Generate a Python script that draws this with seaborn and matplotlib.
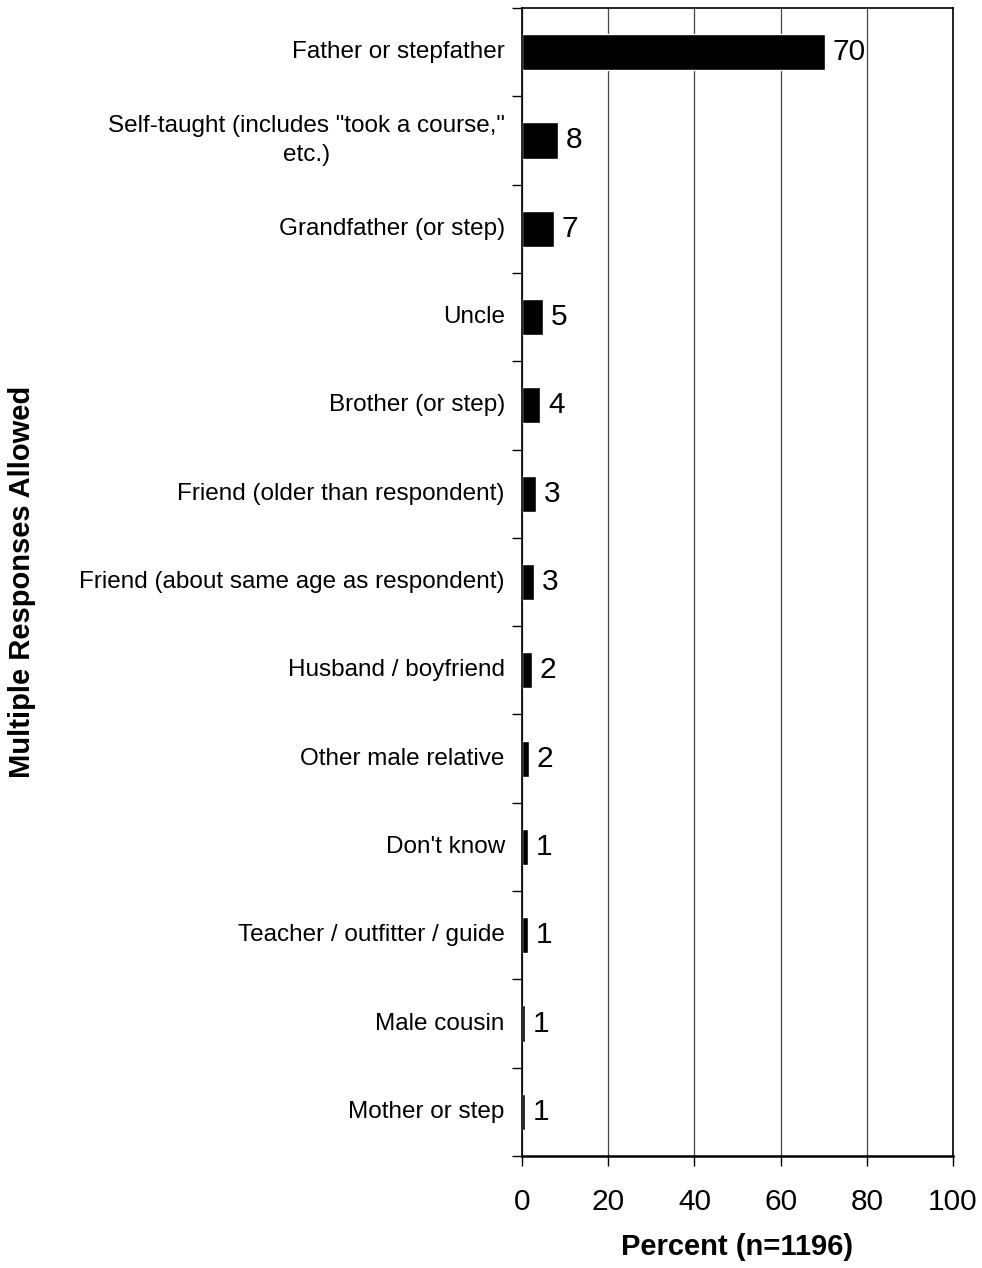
import pandas as pd
import seaborn as sns
import matplotlib.pyplot as plt

# 数据
categories = [
    "Father or stepfather",
    "Self-taught (includes \"took a course,\"\netc.)",
    "Grandfather (or step)",
    "Uncle",
    "Brother (or step)",
    "Friend (older than respondent)",
    "Friend (about same age as respondent)",
    "Husband / boyfriend",
    "Other male relative",
    "Don't know",
    "Teacher / outfitter / guide",
    "Male cousin",
    "Mother or step",
]
percents = [70.3, 8.4, 7.4, 4.9, 4.2, 3.2, 2.8, 2.3, 1.6, 1.3, 1.3, 0.7, 0.7]
value_labels = ["70", "8", "7", "5", "4", "3", "3", "2", "2", "1", "1", "1", "1"]

sns.set_style("white")
plt.rcParams['font.family'] = ['Liberation Sans', 'DejaVu Sans']
plt.rcParams['text.color'] = 'black'
plt.rcParams['xtick.color'] = 'black'
plt.rcParams['ytick.color'] = 'black'
plt.rcParams['axes.labelcolor'] = 'black'

df = pd.DataFrame({"category": categories, "percent": percents})

fig = plt.figure(figsize=(9.82, 12.68), dpi=100)
ax = fig.add_axes([0.5316, 0.0883, 0.4389, 0.9054])

sns.barplot(data=df, y="category", x="percent", orient="h", color="black",
            width=0.41, saturation=1, ax=ax)

ax.set_xlim(0, 100)
ax.set_ylim(len(categories) - 0.5, -0.5)
ax.set_xticks([0, 20, 40, 60, 80, 100])
ax.tick_params(axis="x", labelsize=21.5, length=7, width=1, pad=16, direction="out", bottom=True)
ax.xaxis.grid(True, color="#444444", linewidth=0.9)
ax.set_axisbelow(True)

# y轴刻度在类别边界
ax.set_yticks([i - 0.5 for i in range(len(categories) + 1)], minor=False)
ax.set_yticklabels([])
ax.tick_params(axis="y", length=7, width=1, direction="out", left=True)
for i, cat in enumerate(categories):
    ax.text(-0.04, i, cat, transform=ax.get_yaxis_transform(), ha="right", va="center",
            fontsize=17.5, multialignment="center", linespacing=1.45)

for spine in ax.spines.values():
    spine.set_visible(True)
    spine.set_color("black")
    spine.set_linewidth(1.2)
ax.spines["bottom"].set_linewidth(1.8)

# 数值标签
for i, (v, lab) in enumerate(zip(percents, value_labels)):
    ax.text(v + 1.8, i, lab, ha="left", va="center", fontsize=21.5)

ax.set_ylabel("")
ax.set_xlabel("Percent (n=1196)", fontsize=21, fontweight="bold", labelpad=12)
fig.text(0.022, 0.541, "Multiple Responses Allowed", rotation=90, ha="center", va="center",
         fontsize=21, fontweight="bold")

plt.savefig("out.png", dpi=100)
